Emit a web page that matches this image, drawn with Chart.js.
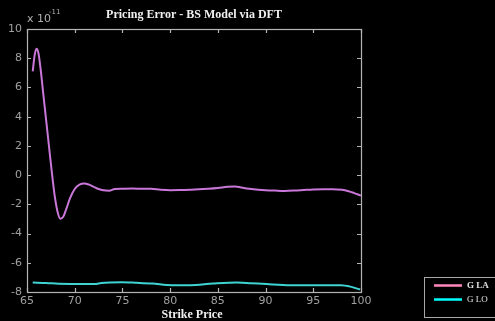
<!DOCTYPE html>
<html>
<head>
<meta charset="utf-8">
<script src="https://cdn.jsdelivr.net/npm/chart.js@4/dist/chart.umd.min.js"></script>
<style>
  html, body { margin: 0; padding: 0; background: #000; }
  #wrap { width: 495px; height: 321px; position: relative; }
</style>
</head>
<body>
<div id="wrap"><canvas id="c" width="495" height="321"></canvas></div>
<script>
// Strike prices and pricing errors (units of 1e-11)
const strikeLA = [65.6, 65.8, 66.0, 66.2, 66.4, 66.7, 67.0, 67.3, 67.6, 67.9, 68.2, 68.5, 68.8, 69.1, 69.5, 70.0, 70.5, 71.0, 71.5, 72.0, 72.5, 73.0, 73.6, 74.2, 75, 76, 77, 78, 79, 80, 81, 82, 83, 84, 85, 86, 86.8, 87.5, 88, 89, 90, 91, 92, 93, 94, 95, 96, 97, 98, 98.7, 99.3, 100];
const errorLA  = [7.1, 8.2, 8.65, 8.35, 7.4, 5.6, 3.8, 2.0, 0.2, -1.4, -2.5, -2.98, -2.85, -2.35, -1.6, -0.95, -0.65, -0.57, -0.65, -0.8, -0.95, -1.04, -1.07, -0.95, -0.93, -0.92, -0.93, -0.94, -1.0, -1.03, -1.02, -1.0, -0.96, -0.93, -0.88, -0.8, -0.78, -0.85, -0.92, -0.98, -1.03, -1.06, -1.08, -1.06, -1.02, -0.98, -0.96, -0.96, -1.0, -1.1, -1.23, -1.4];

const strikeLO = [65.6, 67, 68.3, 70, 72.1, 72.8, 74.9, 76.5, 78.1, 80.2, 82.1, 84.5, 87, 88.5, 90.1, 92.6, 95, 97.9, 99, 99.9];
const errorLO  = [-7.35, -7.38, -7.44, -7.45, -7.46, -7.38, -7.33, -7.37, -7.42, -7.53, -7.53, -7.42, -7.35, -7.4, -7.46, -7.53, -7.53, -7.53, -7.65, -7.83];

const xTicks = [65, 70, 75, 80, 85, 90, 95, 100];
const yTicks = [-8, -6, -4, -2, 0, 2, 4, 6, 8, 10];

const seriesNames = ['G LA', 'G LO'];
const lineColors = ['#c977d8', '#3fd3d3'];
const keyColors = ['#ff88bb', '#00ffff'];

const titleText = 'Pricing Error - BS Model via DFT';
const xTitle = 'Strike Price';

const toPoints = (xs, ys) => xs.map((x, i) => ({ x, y: ys[i] }));

const frame = {
  id: 'frame',
  afterDraw(chart) {
    const ctx = chart.ctx;
    const a = chart.chartArea;
    const xs = chart.scales.x, ys = chart.scales.y;
    ctx.save();
    ctx.strokeStyle = '#b4b4b4';
    ctx.lineWidth = 1.2;
    ctx.strokeRect(a.left + 0.5, a.top + 0.5, a.right - a.left, a.bottom - a.top);
    ctx.beginPath();
    const t = 4;
    xTicks.forEach(v => {
      const p = Math.round(xs.getPixelForValue(v)) + 0.5;
      ctx.moveTo(p, a.bottom); ctx.lineTo(p, a.bottom - t);
      ctx.moveTo(p, a.top); ctx.lineTo(p, a.top + t);
    });
    yTicks.forEach(v => {
      const p = Math.round(ys.getPixelForValue(v)) + 0.5;
      ctx.moveTo(a.left, p); ctx.lineTo(a.left + t, p);
      ctx.moveTo(a.right, p); ctx.lineTo(a.right - t, p);
    });
    ctx.stroke();

    // title
    ctx.fillStyle = '#f0f0f0';
    ctx.font = 'bold 12px "Liberation Serif", serif';
    ctx.textAlign = 'center';
    ctx.textBaseline = 'alphabetic';
    ctx.fillText(titleText, 194, 18);

    // axis title
    ctx.fillText(xTitle, 192, 318);

    // exponent label
    ctx.fillStyle = '#b0b0b0';
    ctx.textAlign = 'left';
    ctx.font = '11px "DejaVu Sans", sans-serif';
    ctx.fillText('x 10', 27, 22);
    ctx.font = '7px "DejaVu Sans", sans-serif';
    ctx.fillText('-11', 49, 14);

    // key box
    ctx.strokeStyle = '#a8a8a8';
    ctx.lineWidth = 1;
    ctx.strokeRect(424.5, 277.5, 80, 40);
    const rows = [285.5, 299.5];
    chart.data.datasets.forEach((ds, i) => {
      ctx.strokeStyle = keyColors[i];
      ctx.lineWidth = 2.5;
      ctx.beginPath();
      ctx.moveTo(434, rows[i]); ctx.lineTo(462, rows[i]);
      ctx.stroke();
      ctx.fillStyle = '#e0e0e0';
      ctx.font = (i === 0 ? 'bold ' : '') + '9px "Liberation Serif", serif';
      ctx.textBaseline = 'middle';
      ctx.fillText(ds.label, 467, rows[i]);
    });
    ctx.restore();
  }
};

new Chart(document.getElementById('c'), {
  type: 'line',
  data: {
    datasets: [
      { label: seriesNames[0], data: toPoints(strikeLA, errorLA), borderColor: lineColors[0], borderWidth: 2, pointRadius: 0, tension: 0.4, cubicInterpolationMode: 'monotone', fill: false },
      { label: seriesNames[1], data: toPoints(strikeLO, errorLO), borderColor: lineColors[1], borderWidth: 2, pointRadius: 0, tension: 0.4, cubicInterpolationMode: 'monotone', fill: false }
    ]
  },
  options: {
    responsive: false,
    animation: false,
    events: [],
    layout: { padding: { top: 29, right: 134, left: 0, bottom: 0 } },
    plugins: { legend: { display: false }, title: { display: false }, tooltip: { enabled: false } },
    scales: {
      x: {
        type: 'linear', min: 65, max: 100,
        afterBuildTicks: s => { s.ticks = xTicks.map(v => ({ value: v })); },
        afterFit: s => { s.height = 29; },
        grid: { display: false, drawTicks: false },
        border: { display: false },
        ticks: { color: '#a0a0a0', padding: 3, font: { family: '"DejaVu Sans", sans-serif', size: 11 }, maxRotation: 0 }
      },
      y: {
        type: 'linear', min: -8, max: 10,
        afterBuildTicks: s => { s.ticks = yTicks.map(v => ({ value: v })); },
        afterFit: s => { s.width = 27; },
        grid: { display: false, drawTicks: false },
        border: { display: false },
        ticks: { color: '#a0a0a0', padding: 5, font: { family: '"DejaVu Sans", sans-serif', size: 11 } }
      }
    }
  },
  plugins: [frame]
});
</script>
</body>
</html>
